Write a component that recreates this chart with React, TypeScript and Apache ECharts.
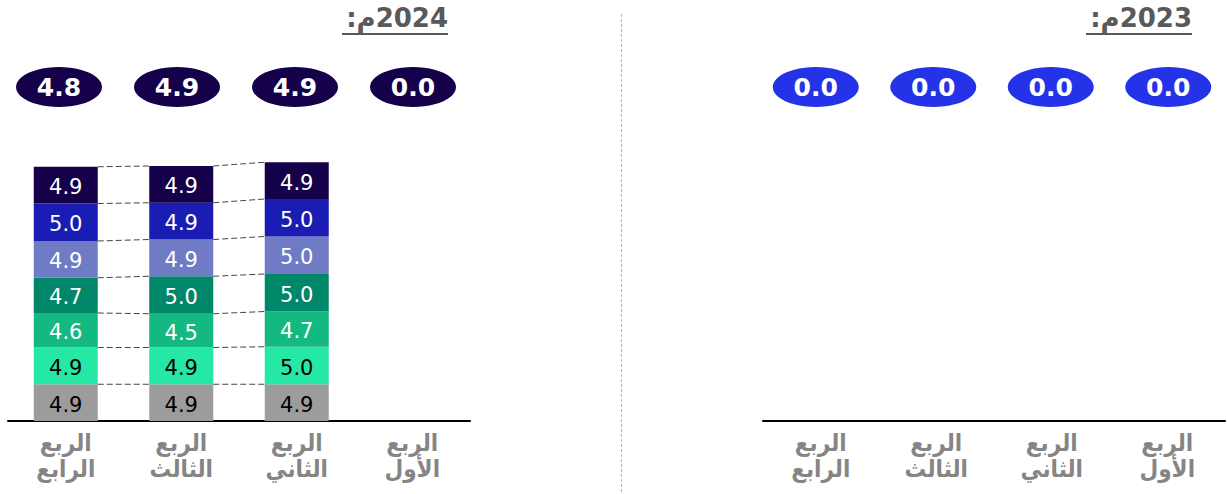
import React, { useEffect, useRef } from "react";
import * as echarts from "echarts";

// Categories in logical order (Q1..Q4); the x axis is inverted (right-to-left)
const quarters = ["الربع\nالأول", "الربع\nالثاني", "الربع\nالثالث", "الربع\nالرابع"];

// 2024 stacked segments by quarter (Q1..Q4), bottom segment to top segment
const segGray = [null, 4.9, 4.9, 4.9];
const segMint = [null, 5.0, 4.9, 4.9];
const segGreen = [null, 4.7, 4.5, 4.6];
const segDarkGreen = [null, 5.0, 5.0, 4.7];
const segPeriwinkle = [null, 5.0, 4.9, 4.9];
const segBlue = [null, 5.0, 4.9, 5.0];
const segNavy = [null, 4.9, 4.9, 4.9];

// Ellipse figures
const totals2024 = [0.0, 4.9, 4.9, 4.8];
const totals2023 = [0.0, 0.0, 0.0, 0.0];

const title2024 = "\u202B2024م:\u202C";
const title2023 = "\u202B2023م:\u202C";

const segments = [segGray, segMint, segGreen, segDarkGreen, segPeriwinkle, segBlue, segNavy];
const segColors = ["#9c9c9c", "#25e8a5", "#14b981", "#00876a", "#6f7bc4", "#1a1db3", "#15004a"];
const labelColors = ["#000000", "#000000", "#ffffff", "#ffffff", "#ffffff", "#ffffff", "#ffffff"];
const connectorPairs = [[1, 0], [2, 0], [3, 0]];

const BAR_W = 64;

function cumulative(c: number, k: number): number {
  let s = 0;
  for (let i = 0; i <= k; i++) s += (segments[i][c] as number) || 0;
  return s;
}

export default function App() {
  const ref = useRef<HTMLDivElement>(null);
  useEffect(() => {
    document.body.style.margin = "0";
    const chart = echarts.init(ref.current!, null, { renderer: "svg" });
    const catAxisBase = {
      type: "category",
      data: quarters,
      inverse: true,
      axisTick: { show: false },
    };
    const barXAxis = (gridIndex: number) => ({
      ...catAxisBase,
      gridIndex,
      axisLine: { show: true, lineStyle: { color: "#000", width: 2 } },
      axisLabel: {
        color: "#858585",
        fontWeight: "bold",
        fontSize: 24,
        lineHeight: 26,
        margin: 9,
        fontFamily: "DejaVu Sans Condensed, DejaVu Sans, sans-serif",
      },
    });
    const ellXAxis = (gridIndex: number) => ({
      ...catAxisBase,
      gridIndex,
      axisLine: { show: false },
      axisLabel: { show: false },
    });
    const valY = (gridIndex: number, min: number, max: number) => ({
      type: "value",
      gridIndex,
      min,
      max,
      show: false,
      splitLine: { show: false },
    });

    const barSeries = segments.map((d, i) => ({
      type: "bar",
      stack: "s",
      xAxisIndex: 0,
      yAxisIndex: 0,
      barWidth: BAR_W,
      data: d,
      itemStyle: { color: segColors[i] },
      label: {
        show: true,
        position: "inside",
        offset: [0, 2],
        color: labelColors[i],
        fontSize: 21,
        fontFamily: "DejaVu Sans, sans-serif",
        formatter: (p: any) => (p.value == null ? "" : Number(p.value).toFixed(1)),
      },
    }));

    const ellipse = (data: number[], xi: number, color: string) => ({
      type: "scatter",
      xAxisIndex: xi,
      yAxisIndex: xi,
      symbol: "circle",
      symbolSize: [86, 40],
      data: data.map((v, i) => ({ value: [i, 0], label: { formatter: v.toFixed(1) } })),
      itemStyle: { color, opacity: 1 },
      label: {
        show: true,
        position: "inside",
        color: "#fff",
        fontWeight: "bold",
        fontSize: 25,
        fontFamily: "DejaVu Sans, sans-serif",
      },
    });

    const titleStyle = {
      align: "right",
      verticalAlign: "middle",
      fill: "#595959",
      fontSize: 26,
      fontWeight: "bold",
      fontFamily: "DejaVu Sans, sans-serif",
    };

    chart.setOption({
      animation: false,
      grid: [
        { left: 8, width: 462, top: 121, height: 300 },
        { left: 763, width: 462, top: 121, height: 300 },
        { left: 0, width: 472, top: 67, height: 40 },
        { left: 757, width: 472, top: 67, height: 40 },
      ],
      xAxis: [barXAxis(0), barXAxis(1), ellXAxis(2), ellXAxis(3)],
      yAxis: [valY(0, 0, 40), valY(1, 0, 40), valY(2, -1, 1), valY(3, -1, 1)],
      series: [
        ...barSeries,
        {
          type: "custom",
          xAxisIndex: 0,
          yAxisIndex: 0,
          data: connectorPairs,
          encode: { x: 0, y: 1 },
          z: 5,
          renderItem: (params: any, api: any) => {
            const c = api.value(0) as number;
            const p = c - 1;
            if (segments[0][c] == null || segments[0][p] == null) return null;
            const children: any[] = [];
            for (let k = 0; k < segments.length; k++) {
              const a = api.coord([c, cumulative(c, k)]);
              const b = api.coord([p, cumulative(p, k)]);
              const l = a[0] < b[0] ? a : b;
              const r = a[0] < b[0] ? b : a;
              children.push({
                type: "line",
                shape: { x1: l[0] + BAR_W / 2, y1: l[1], x2: r[0] - BAR_W / 2, y2: r[1] },
                style: { stroke: "#444444", lineWidth: 1, lineDash: [6, 3] },
              });
            }
            return { type: "group", children };
          },
        },
        ellipse(totals2024, 2, "#15004a"),
        ellipse(totals2023, 3, "#2433e8"),
      ],
      graphic: [
        {
          type: "line",
          shape: { x1: 621.5, y1: 14, x2: 621.5, y2: 494 },
          style: { stroke: "#b3b3b3", lineWidth: 1, lineDash: [3, 2] },
        },
        { type: "text", x: 448, y: 18, style: { text: title2024, ...titleStyle } },
        {
          type: "line",
          shape: { x1: 342, y1: 34, x2: 448, y2: 34 },
          style: { stroke: "#595959", lineWidth: 2 },
        },
        { type: "text", x: 1192, y: 18, style: { text: title2023, ...titleStyle } },
        {
          type: "line",
          shape: { x1: 1086, y1: 34, x2: 1192, y2: 34 },
          style: { stroke: "#595959", lineWidth: 2 },
        },
      ],
    });
    return () => chart.dispose();
  }, []);
  return <div ref={ref} style={{ width: 1227, height: 494 }} />;
}
